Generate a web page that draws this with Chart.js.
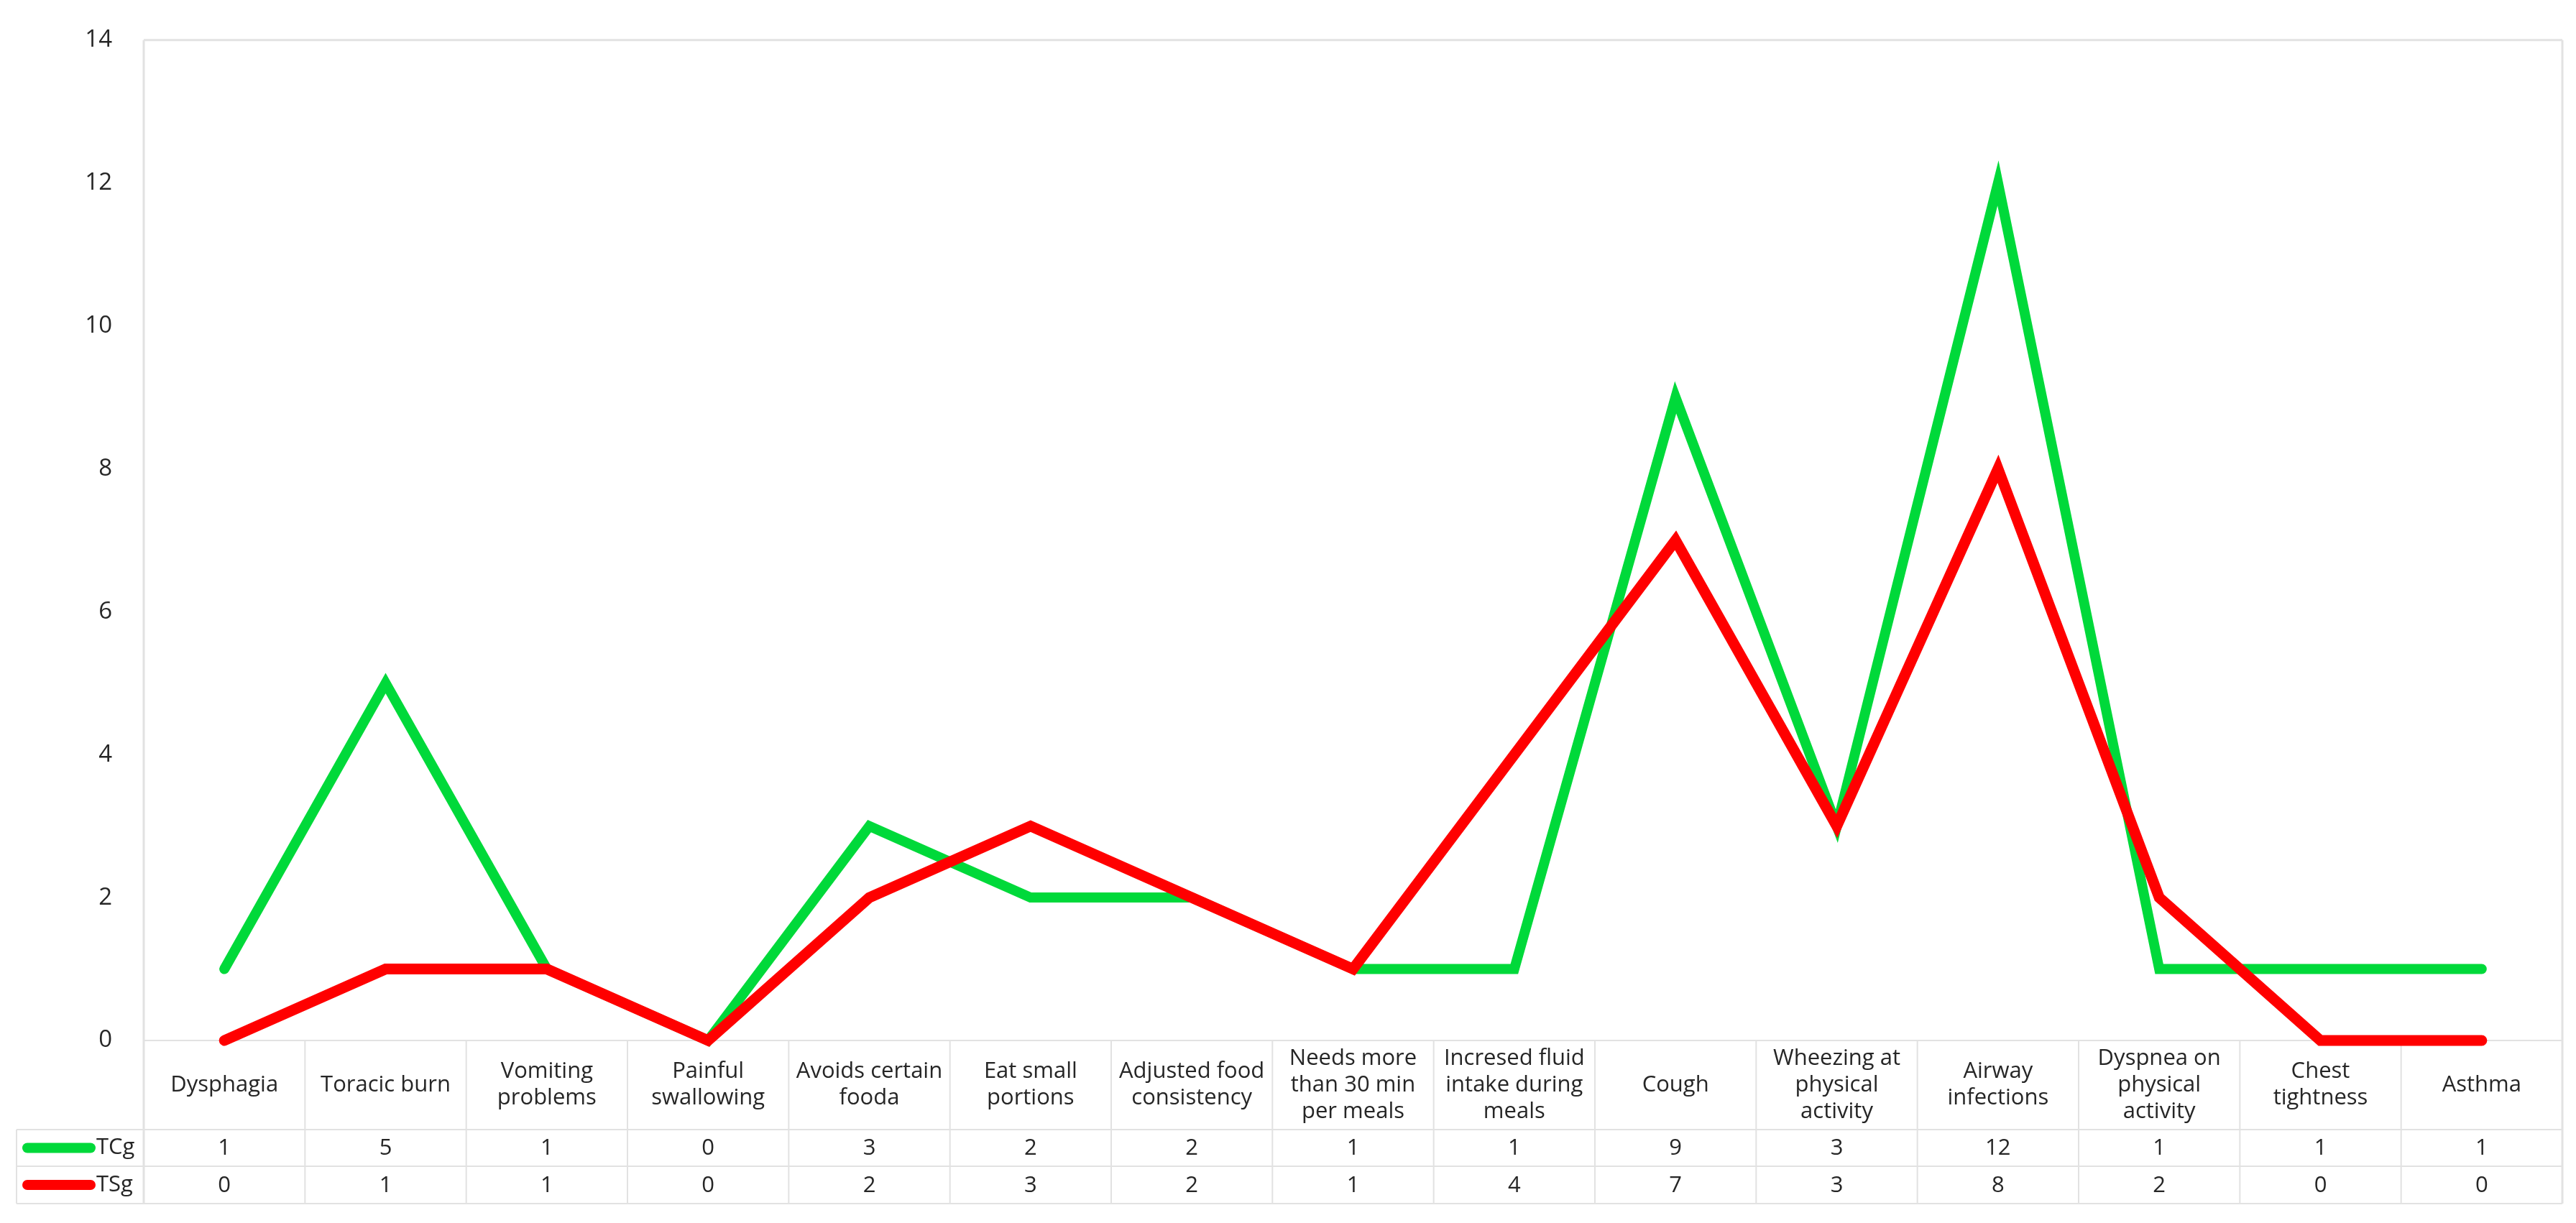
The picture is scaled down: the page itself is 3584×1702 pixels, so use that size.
<!DOCTYPE html>
<html>
<head>
<meta charset="utf-8">
<script src="https://cdn.jsdelivr.net/npm/chart.js@4.4.1/dist/chart.umd.min.js"></script>
<style>
  html, body { margin: 0; padding: 0; background: #fff; }
  canvas { display: block; }
</style>
</head>
<body>
<canvas id="symptomChart" width="3584" height="1702"></canvas>
<script>
// data
const categories = [
  ["Dysphagia"], ["Toracic burn"], ["Vomiting", "problems"], ["Painful", "swallowing"],
  ["Avoids certain", "fooda"], ["Eat small", "portions"], ["Adjusted food", "consistency"],
  ["Needs more", "than 30 min", "per meals"], ["Incresed fluid", "intake during", "meals"],
  ["Cough"], ["Wheezing at", "physical", "activity"], ["Airway", "infections"],
  ["Dyspnea on", "physical", "activity"], ["Chest", "tightness"], ["Asthma"]
];
const tcgValues = [1, 5, 1, 0, 3, 2, 2, 1, 1, 9, 3, 12, 1, 1, 1];
const tsgValues = [0, 1, 1, 0, 2, 3, 2, 1, 4, 7, 3, 8, 2, 0, 0];
const seriesNames = ["TCg", "TSg"];
const yMin = 0, yMax = 14, yStep = 2;

const FONT = "'Open Sans', sans-serif";
const TEXT = "#262626";
const GRID = "#e2e2e2";

// draws the data table under the plot (Excel style)
const dataTable = {
  id: "dataTable",
  beforeDatasetsDraw(chart) {
    const { ctx, chartArea: a, scales: { x } } = chart;
    const colW = x.getPixelForValue(1) - x.getPixelForValue(0);
    const catBottom = a.bottom + 124;
    const row1 = catBottom + 51;
    const row2 = row1 + 52;
    const legendLeft = 23;

    ctx.save();
    ctx.strokeStyle = GRID;
    ctx.lineWidth = 3;
    // plot frame
    ctx.beginPath();
    ctx.moveTo(a.left, a.top); ctx.lineTo(a.right, a.top);
    ctx.moveTo(a.left, a.top); ctx.lineTo(a.left, row2);
    ctx.moveTo(a.right, a.top); ctx.lineTo(a.right, row2);
    ctx.stroke();

    ctx.lineWidth = 2;
    ctx.beginPath();
    ctx.moveTo(a.left, a.bottom); ctx.lineTo(a.right, a.bottom);
    [catBottom, row1, row2].forEach(y => { ctx.moveTo(legendLeft, y); ctx.lineTo(a.right, y); });
    ctx.moveTo(legendLeft, catBottom); ctx.lineTo(legendLeft, row2);
    for (let i = 1; i < categories.length; i++) {
      const xe = x.getPixelForValue(i) - colW / 2;
      ctx.moveTo(xe, a.bottom); ctx.lineTo(xe, row2);
    }
    ctx.stroke();
    ctx.restore();
  },
  afterDraw(chart) {
    const { ctx, chartArea: a, scales: { x } } = chart;
    const catBottom = a.bottom + 124;
    const row1 = catBottom + 51;
    const row2 = row1 + 52;
    const rows = [[a.bottom, catBottom], [catBottom, row1], [row1, row2]];

    ctx.save();
    ctx.fillStyle = TEXT;
    ctx.textAlign = "center";
    ctx.textBaseline = "middle";
    ctx.font = "31px " + FONT;
    const lineH = 37;
    categories.forEach((lines, i) => {
      const cx = x.getPixelForValue(i);
      const mid = (rows[0][0] + rows[0][1]) / 2;
      lines.forEach((t, k) => {
        ctx.fillText(t, cx, mid + (k - (lines.length - 1) / 2) * lineH);
      });
    });

    chart.data.datasets.forEach((ds, d) => {
      const mid = (rows[d + 1][0] + rows[d + 1][1]) / 2;
      ds.data.forEach((v, i) => {
        ctx.fillText(String(v), x.getPixelForValue(i), mid + 1);
      });
      // legend key
      ctx.strokeStyle = ds.borderColor;
      ctx.lineWidth = 14;
      ctx.lineCap = "round";
      ctx.beginPath();
      ctx.moveTo(38, mid); ctx.lineTo(126, mid);
      ctx.stroke();
      ctx.textAlign = "left";
      ctx.fillText(ds.label, 134, mid);
      ctx.textAlign = "center";
    });
    ctx.restore();
  }
};

const ctx = document.getElementById("symptomChart").getContext("2d");
const symptomChart = new Chart(ctx, {
  type: "line",
  data: {
    labels: categories,
    datasets: [
      {
        label: seriesNames[0],
        data: tcgValues,
        borderColor: "#00d93a",
        borderWidth: 14,
        order: 1
      },
      {
        label: seriesNames[1],
        data: tsgValues,
        borderColor: "#ff0000",
        borderWidth: 15,
        order: 0
      }
    ]
  },
  options: {
    responsive: false,
    animation: false,
    devicePixelRatio: 1,
    layout: { padding: { top: 42, right: 19, bottom: 254, left: 0 } },
    elements: {
      point: { radius: 0, hoverRadius: 0 },
      line: { tension: 0, borderCapStyle: "round", borderJoinStyle: "miter", fill: false }
    },
    datasets: { line: { clip: false } },
    plugins: {
      legend: { display: false },
      tooltip: { enabled: false }
    },
    scales: {
      x: {
        type: "category",
        offset: true,
        display: false
      },
      y: {
        min: yMin,
        max: yMax,
        grid: { display: false },
        border: { display: false },
        ticks: {
          stepSize: yStep,
          padding: 36,
          color: TEXT,
          font: { family: FONT, size: 33 }
        },
        afterFit(scale) { scale.width = 200; }
      }
    }
  },
  plugins: [dataTable]
});
</script>
</body>
</html>
